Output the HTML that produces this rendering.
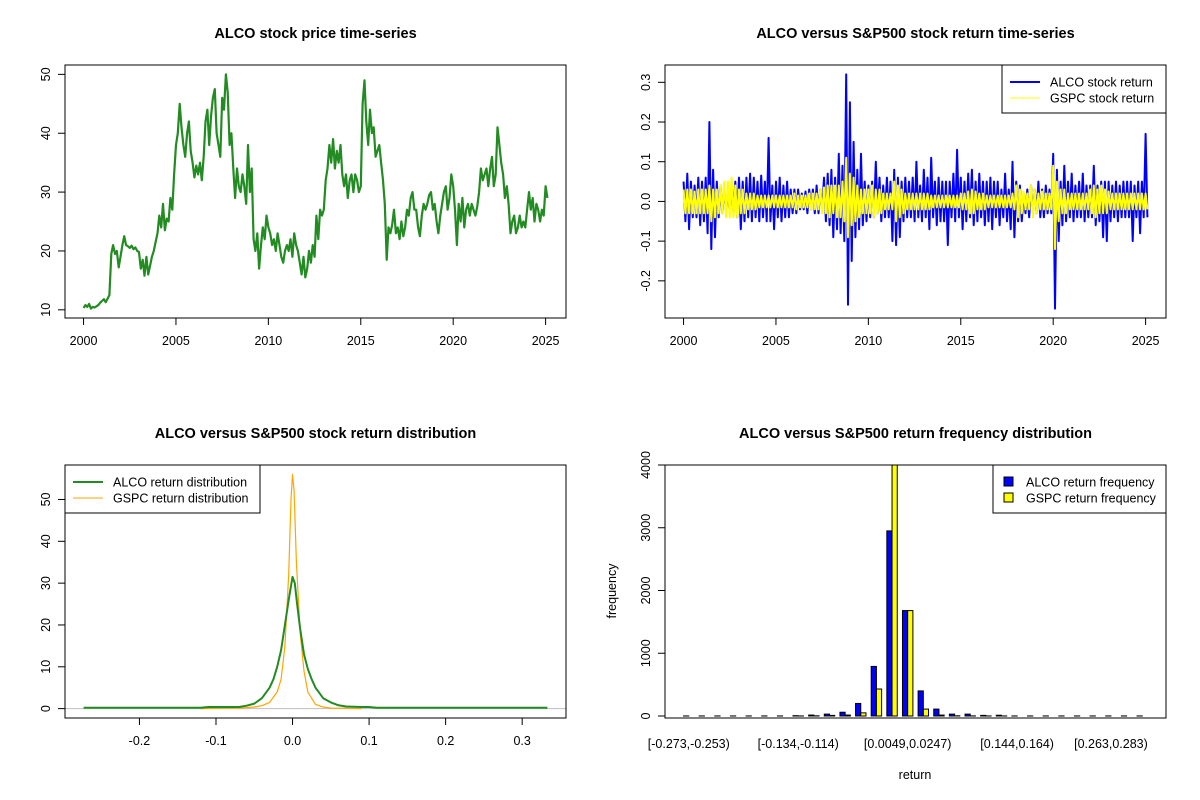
<!DOCTYPE html>
<html><head><meta charset="utf-8"><style>
html,body{margin:0;padding:0;background:#fff;}
svg{display:block;font-family:"Liberation Sans",Arial,sans-serif;}
</style></head><body>
<svg id="root" width="1200" height="800" viewBox="0 0 1200 800" xmlns="http://www.w3.org/2000/svg">
<rect width="1200" height="800" fill="#fff"/>
</svg>
<script>
// ---------- DATA ----------
const priceStart = 2000.0;
const priceStep = 0.1;
const priceValues = [
10.3,10.8,10.5,11,10.2,10.5,10.4,10.6,10.8,11.2,
11.5,11.8,11.3,11.9,12.5,19.5,21,19.5,20,17.2,
19,21,22.5,21,20.8,20.5,20.9,20.3,20.6,20,
19.8,17,18.5,15.8,19,16,17.5,19,20,21.5,
23,26,24,28,23.5,25.5,25,29,27,33,
38,40,45,41,38,36,40,42,37,35,
32.5,34.5,33,35,32,36,42,44,38,43,
46,47.5,40,38,36,46,44,50,47,38,
40,34,29,34,31,30,33,31,28,38,
30,34,22,20,23,17,21,24,22,26,
24,23,21,22,20,23,21,19,18,20,
21,20,22,19,23,21,20,18,16,19,
15.5,17,20,18,21,19,26,22,27,26,
27,32,34,38,35,39,34,37,35,38,
33,31,33,29,32,33,30,33,32,30,
31,45,49,42,38,44,40,41,36,37,
38,35,32,28,18.5,24,23,24.5,27,23,
24,22,25,22.5,24,27,26,29,30,27,
27,24,22.5,26,28,27,28,29.5,30,27,
28,25,23,26,28,30,31,27,29,33,
31,27,21,28,25,29,24,27,28,26,
28,27,26,27.5,30,34,32,33,34,31,
34,36,31,33,41,38,35,33,29,31,
28,23,25,26,23,24,26,24,25,24,
27,30,27,29,25,28,27,25,27,26,
31,29];
const yearTicks = [2000,2005,2010,2015,2020,2025];
const priceTicks = [10,20,30,40,50];

const retStep = 0.1; // alternating up/down values every 0.1 year
const alcoReturns = [
0.05,-0.05,0.07,-0.07,0.05,-0.04,0.04,-0.04,0.06,-0.06,
0.05,-0.05,0.06,-0.08,0.2,-0.12,0.08,-0.09,0.05,-0.04,
0.04,-0.03,0.035,-0.03,0.03,-0.03,0.04,-0.03,0.05,-0.04,
0.06,-0.07,0.05,-0.05,0.06,-0.04,0.07,-0.05,0.06,-0.04,
0.05,-0.05,0.065,-0.04,0.05,-0.05,0.16,-0.05,0.04,-0.07,
0.05,-0.04,0.06,-0.05,0.04,-0.04,0.05,-0.04,0.03,-0.03,
0.03,-0.03,0.03,-0.02,0.02,-0.02,0.025,-0.03,0.03,-0.02,
0.03,-0.03,0.04,-0.03,0.03,-0.02,0.06,-0.05,0.07,-0.06,
0.08,-0.09,0.06,-0.07,0.12,-0.08,0.09,-0.1,0.32,-0.26,
0.25,-0.15,0.15,-0.09,0.08,-0.07,0.12,-0.06,0.05,-0.05,
0.04,-0.04,0.05,-0.04,0.1,-0.03,0.06,-0.05,0.04,-0.04,
0.06,-0.04,0.05,-0.1,0.08,-0.11,0.06,-0.09,0.05,-0.05,
0.06,-0.04,0.05,-0.04,0.06,-0.05,0.1,-0.04,0.04,-0.05,
0.08,-0.04,0.06,-0.07,0.11,-0.04,0.05,-0.06,0.06,-0.05,
0.05,-0.05,0.05,-0.11,0.05,-0.04,0.07,-0.05,0.13,-0.04,
0.06,-0.07,0.05,-0.05,0.07,-0.04,0.08,-0.06,0.05,-0.05,
0.07,-0.04,0.05,-0.06,0.05,-0.05,0.06,-0.07,0.05,-0.04,
0.05,-0.06,0.03,-0.04,0.07,-0.05,0.03,-0.07,0.1,-0.09,
0.05,-0.05,0.04,-0.05,0.02,-0.03,0.03,-0.04,0.04,-0.03,
0.03,-0.03,0.05,-0.04,0.03,-0.04,0.04,-0.03,0.03,-0.03,
0.12,-0.27,0.08,-0.1,0.05,-0.06,0.09,-0.05,0.05,-0.04,
0.07,-0.05,0.04,-0.04,0.05,-0.04,0.07,-0.05,0.04,-0.04,
0.04,-0.04,0.09,-0.06,0.04,-0.05,0.05,-0.09,0.05,-0.1,
0.05,-0.05,0.04,-0.04,0.05,-0.05,0.04,-0.04,0.05,-0.04,
0.05,-0.04,0.05,-0.1,0.04,-0.04,0.05,-0.08,0.05,-0.04,
0.17,-0.04];
const gspcReturns = [
0.03,-0.03,0.03,-0.03,0.03,-0.03,0.025,-0.03,0.03,-0.03,
0.03,-0.03,0.03,-0.03,0.04,-0.05,0.03,-0.04,0.03,-0.03,
0.04,-0.03,0.05,-0.04,0.05,-0.04,0.06,-0.04,0.04,-0.04,
0.03,-0.03,0.03,-0.03,0.02,-0.02,0.02,-0.02,0.02,-0.02,
0.015,-0.015,0.015,-0.015,0.015,-0.015,0.015,-0.015,0.015,-0.015,
0.015,-0.015,0.015,-0.015,0.015,-0.015,0.015,-0.015,0.015,-0.015,
0.02,-0.02,0.015,-0.015,0.015,-0.015,0.015,-0.015,0.02,-0.02,
0.02,-0.02,0.02,-0.02,0.03,-0.03,0.035,-0.03,0.04,-0.04,
0.04,-0.03,0.04,-0.04,0.04,-0.04,0.05,-0.05,0.11,-0.09,
0.07,-0.06,0.06,-0.05,0.04,-0.04,0.03,-0.03,0.03,-0.03,
0.03,-0.03,0.04,-0.04,0.03,-0.03,0.03,-0.03,0.02,-0.02,
0.02,-0.02,0.02,-0.02,0.05,-0.05,0.04,-0.04,0.03,-0.03,
0.02,-0.02,0.02,-0.02,0.02,-0.02,0.02,-0.02,0.02,-0.02,
0.02,-0.02,0.02,-0.02,0.015,-0.015,0.015,-0.015,0.015,-0.015,
0.015,-0.015,0.015,-0.015,0.015,-0.015,0.015,-0.015,0.015,-0.015,
0.02,-0.02,0.02,-0.02,0.025,-0.03,0.03,-0.03,0.025,-0.02,
0.02,-0.02,0.02,-0.02,0.015,-0.015,0.015,-0.015,0.015,-0.015,
0.015,-0.015,0.015,-0.015,0.015,-0.015,0.015,-0.015,0.02,-0.02,
0.04,-0.04,0.03,-0.03,0.025,-0.02,0.02,-0.02,0.04,-0.04,
0.03,-0.03,0.02,-0.02,0.025,-0.02,0.02,-0.02,0.02,-0.02,
0.09,-0.12,0.05,-0.05,0.03,-0.03,0.03,-0.03,0.02,-0.02,
0.02,-0.02,0.02,-0.02,0.02,-0.02,0.02,-0.02,0.02,-0.02,
0.03,-0.03,0.04,-0.04,0.03,-0.03,0.04,-0.03,0.03,-0.03,
0.025,-0.02,0.02,-0.02,0.02,-0.02,0.02,-0.02,0.02,-0.02,
0.02,-0.02,0.02,-0.02,0.02,-0.02,0.02,-0.02,0.02,-0.02,
0.02,-0.02];
const returnTicks = [-0.2,-0.1,0.0,0.1,0.2,0.3];

const densX = [-0.273,-0.2,-0.12,-0.11,-0.09,-0.07,-0.06,-0.05,-0.04,-0.03,-0.025,-0.02,-0.015,-0.01,-0.005,0,0.003,0.006,0.01,0.015,0.02,0.025,0.03,0.04,0.05,0.06,0.07,0.09,0.1,0.11,0.2,0.333];
const alcoDensity = [0.2,0.2,0.2,0.4,0.4,0.4,0.7,1.2,2.5,5,7,10,14,20,26,31.5,30,25,19,13,9.5,7,5,2.5,1.5,0.8,0.5,0.4,0.4,0.2,0.2,0.2];
const gspcDensX = [-0.12,-0.09,-0.07,-0.05,-0.04,-0.03,-0.02,-0.015,-0.01,-0.005,-0.002,0,0.002,0.005,0.01,0.015,0.02,0.03,0.04,0.05,0.07,0.09];
const gspcDensity = [0,0.1,0.1,0.4,0.7,1.5,4,7,15,32,50,56,52,35,18,9,4,1,0.4,0.1,0.1,0];
const densXTicks = [-0.2,-0.1,0.0,0.1,0.2,0.3];
const densYTicks = [0,10,20,30,40,50];

const binLabels = ["[-0.273,-0.253)","[-0.134,-0.114)","[0.0049,0.0247)","[0.144,0.164)","[0.263,0.283)"];
const binLabelIndex = [1,8,15,22,28];
const alcoFreq = [1,1,1,1,1,1,1,5,15,30,60,200,790,2950,1680,400,110,30,30,10,12,1,1,1,1,1,1,1,1,1];
const gspcFreq = [0,0,0,0,0,0,0,1,3,10,15,50,430,4300,1680,110,15,3,2,1,1,0,0,0,0,0,0,0,0,0];
const freqTicks = [0,1000,2000,3000,4000];

// ---------- HELPERS ----------
const NS = "http://www.w3.org/2000/svg";
const root = document.getElementById('root');
function mk(tag, attrs, parent){ const e=document.createElementNS(NS,tag); for(const k in attrs) e.setAttribute(k,attrs[k]); (parent||root).appendChild(e); return e; }
function txt(s, x, y, attrs, parent){ const t=mk('text', Object.assign({x:x,y:y,'font-size':12.5,fill:'#000'},attrs), parent); t.textContent=s; return t; }
function scale(d0,d1,r0,r1){ return v => r0 + (v-d0)/(d1-d0)*(r1-r0); }
function rscale(min,max,r0,r1){ const p=(max-min)*0.04; return scale(min-p,max+p,r0,r1); }

function frame(g, L, T, R, B){
  const b = mk('rect',{x:L,y:T,width:R-L,height:B-T,fill:'none',stroke:'#000','stroke-width':1},g);
  
  
}
function xAxis(g, ticks, sx, B, fmt){
  const a = mk('g',{},g);
  
  
  mk('line',{x1:sx(ticks[0]),x2:sx(ticks[ticks.length-1]),y1:B,y2:B,stroke:'#000'},a);
  ticks.forEach(t=>{ const x=sx(t); mk('line',{x1:x,x2:x,y1:B,y2:B+7,stroke:'#000'},a);
    const l=txt(fmt(t),x,B+27,{'text-anchor':'middle'},a);
    
     });
}
function yAxis(g, ticks, sy, L, fmt){
  const a = mk('g',{},g);
  
  
  mk('line',{x1:L,x2:L,y1:sy(ticks[0]),y2:sy(ticks[ticks.length-1]),stroke:'#000'},a);
  ticks.forEach(t=>{ const y=sy(t); mk('line',{x1:L-7,x2:L,y1:y,y2:y,stroke:'#000'},a);
    const xx=L-15; const l=txt(fmt(t),xx,y,{'text-anchor':'middle',transform:`rotate(-90 ${xx} ${y})`},a);
    
     });
}
function title(g, s, cx, y){
  const t=txt(s,cx,y,{'text-anchor':'middle','font-weight':'bold','font-size':14.5},g);
  
  
}
function poly(g, pts, color, w, name){
  const p=mk('polyline',{points:pts.map(p=>p[0].toFixed(1)+','+p[1].toFixed(1)).join(' '),fill:'none',stroke:color,'stroke-width':w,'stroke-linejoin':'round'},g);
  
  
  return p;
}

// ---------- PANEL 1: price ----------
(function(){
  const g=mk('g',{});
  
  
  const L=65,R=566,T=65,B=318;
  const xEnd = priceStart + (priceValues.length-1)*priceStep;
  const sx=rscale(priceStart,xEnd,L,R);
  const sy=rscale(Math.min(...priceValues),Math.max(...priceValues),B,T);
  title(g,'ALCO stock price time-series',(L+R)/2,38);
  poly(g, priceValues.map((v,i)=>[sx(priceStart+i*priceStep),sy(v)]), '#228B22', 2.2, 'price-line');
  frame(g,L,T,R,B);
  xAxis(g,yearTicks,sx,B,t=>String(t));
  yAxis(g,priceTicks,sy,L,t=>String(t));
})();

// ---------- PANEL 2: returns ----------
(function(){
  const g=mk('g',{});
  
  
  const L=665,R=1166,T=65,B=318;
  const n=Math.max(alcoReturns.length,gspcReturns.length);
  const xEnd=2000+(n-1)*retStep;
  const sx=rscale(2000,xEnd,L,R);
  const all=alcoReturns.concat(gspcReturns);
  const sy=rscale(Math.min(...all),Math.max(...all),B,T);
  title(g,'ALCO versus S&P500 stock return time-series',(L+R)/2,38);
  poly(g, alcoReturns.map((v,i)=>[sx(2000+i*retStep),sy(v)]), '#0000FF', 2, 'alco-return-line');
  poly(g, gspcReturns.map((v,i)=>[sx(2000+i*retStep),sy(v)]), '#FFFF00', 2, 'gspc-return-line');
  frame(g,L,T,R,B);
  xAxis(g,yearTicks,sx,B,t=>String(t));
  yAxis(g,returnTicks,sy,L,t=>t.toFixed(1));
  const lg=mk('g',{},g);
  
  
  mk('rect',{x:1002,y:65,width:164,height:48,fill:'#fff',stroke:'#000'},lg);
  mk('line',{x1:1010,x2:1040,y1:82,y2:82,stroke:'#0000FF','stroke-width':2},lg);
  mk('line',{x1:1010,x2:1040,y1:98,y2:98,stroke:'#FFFF00','stroke-width':1},lg);
  const a=txt('ALCO stock return',1050,86.5,{},lg);
  
  
  const b=txt('GSPC stock return',1050,102.5,{},lg);
  
  
})();

// ---------- PANEL 3: density ----------
(function(){
  const g=mk('g',{});
  
  
  const L=65,R=566,T=465,B=718;
  const sx=rscale(Math.min(...densX),Math.max(...densX),L,R);
  const sy=rscale(0,Math.max(...alcoDensity,...gspcDensity),B,T);
  title(g,'ALCO versus S&P500 stock return distribution',(L+R)/2,438);
  const z=mk('line',{x1:L,x2:R,y1:sy(0),y2:sy(0),stroke:'#BEBEBE'},g);
  
  
  poly(g, gspcDensX.map((x,i)=>[sx(x),sy(gspcDensity[i])]), '#FFA500', 1.2, 'gspc-density-line');
  poly(g, densX.map((x,i)=>[sx(x),sy(alcoDensity[i])]), '#228B22', 2, 'alco-density-line');
  frame(g,L,T,R,B);
  xAxis(g,densXTicks,sx,B,t=>t.toFixed(1));
  yAxis(g,densYTicks,sy,L,t=>String(t));
  const lg=mk('g',{},g);
  
  
  mk('rect',{x:65,y:465,width:195,height:48,fill:'#fff',stroke:'#000'},lg);
  mk('line',{x1:73,x2:103,y1:482,y2:482,stroke:'#228B22','stroke-width':2},lg);
  mk('line',{x1:73,x2:103,y1:498,y2:498,stroke:'#FFA500','stroke-width':1},lg);
  const a=txt('ALCO return distribution',113,486.5,{},lg);
  
  
  const b=txt('GSPC return distribution',113,502.5,{},lg);
  
  
})();

// ---------- PANEL 4: histogram ----------
(function(){
  const g=mk('g',{});
  
  
  const L=665,R=1166,T=465,B=718;
  const nb=alcoFreq.length;
  const sx=rscale(1,nb*3,L,R);
  const sy=scale(0,4000,716,T);
  title(g,'ALCO versus S&P500 return frequency distribution',(L+R)/2,438);
  const clip=mk('clipPath',{id:'hclip'},g);
  mk('rect',{x:L,y:T,width:R-L,height:B-T},clip);
  const bars=mk('g',{'clip-path':'url(#hclip)'},g);
  for(let i=0;i<nb;i++){
    const x0=3*(i+1)-2;
    const r1=mk('rect',{x:sx(x0),y:sy(alcoFreq[i]),width:sx(x0+1)-sx(x0),height:Math.max(0,sy(0)-sy(alcoFreq[i])),fill:'#0000FF',stroke:'#000','stroke-width':1},bars);
    
    
    const r2=mk('rect',{x:sx(x0+1),y:sy(gspcFreq[i]),width:sx(x0+2)-sx(x0+1),height:Math.max(0,sy(0)-sy(gspcFreq[i])),fill:'#FFFF00',stroke:'#000','stroke-width':1},bars);
    
    
  }
  frame(g,L,T,R,B);
  yAxis(g,freqTicks,sy,L,t=>String(t));
  binLabels.forEach((s,k)=>{ const i=binLabelIndex[k]; const cx=sx(3*i-1);
    const l=txt(s,cx,748,{'text-anchor':'middle'},g);
    
     });
  const xt=txt('return',915,779,{'text-anchor':'middle'},g);
  
  
  const yt=txt('frequency',616,591,{'text-anchor':'middle',transform:'rotate(-90 616 591)'},g);
  
  
  const lg=mk('g',{},g);
  
  
  mk('rect',{x:993,y:465,width:173,height:48,fill:'#fff',stroke:'#000'},lg);
  mk('rect',{x:1004,y:477,width:9,height:9,fill:'#0000FF',stroke:'#000'},lg);
  mk('rect',{x:1004,y:493,width:9,height:9,fill:'#FFFF00',stroke:'#000'},lg);
  const a=txt('ALCO return frequency',1026,486.5,{},lg);
  
  
  const b=txt('GSPC return frequency',1026,502.5,{},lg);
  
  
})();
</script>
</body></html>
